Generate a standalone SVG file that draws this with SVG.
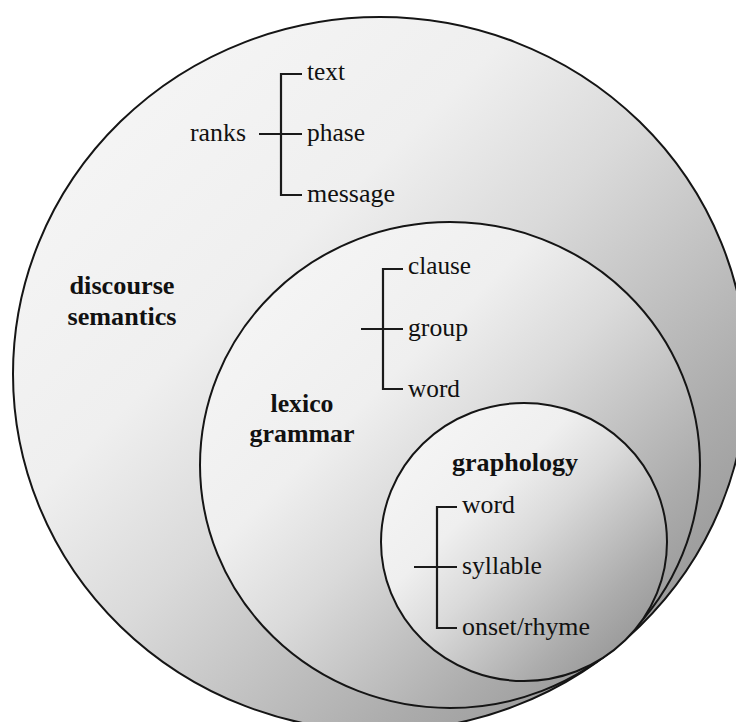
<svg xmlns="http://www.w3.org/2000/svg" width="736" height="722" viewBox="0 0 736 722">
  <defs>
    <linearGradient id="shade" x1="0" y1="0" x2="1" y2="1">
      <stop offset="0" stop-color="#f8f8f8"/>
      <stop offset="0.35" stop-color="#efefef"/>
      <stop offset="0.5" stop-color="#dadada"/>
      <stop offset="0.75" stop-color="#acacac"/>
      <stop offset="1" stop-color="#868686"/>
    </linearGradient>
    <style>
      .circ { fill: url(#shade); stroke: #151515; stroke-width: 2; }
      .br { fill: none; stroke: #1a1a1a; stroke-width: 2.2; }
      .t { font-family: "Liberation Serif", "Times New Roman", serif; font-size: 25px; fill: #111111; }
      .b { font-family: "Liberation Serif", "Times New Roman", serif; font-size: 26px; font-weight: bold; fill: #111111; text-anchor: middle; }
    </style>
  </defs>
  <rect width="736" height="722" fill="#ffffff"/>

  <g id="discourse-semantics">
    <ellipse class="circ" cx="380" cy="374" rx="367" ry="357"/>
    <text class="b" x="122" y="294" textLength="105" lengthAdjust="spacingAndGlyphs">discourse</text>
    <text class="b" x="122" y="325" textLength="109" lengthAdjust="spacingAndGlyphs">semantics</text>
    <text class="t" x="190" y="141" textLength="56" lengthAdjust="spacingAndGlyphs">ranks</text>
    <text class="t" x="307" y="80" textLength="38" lengthAdjust="spacingAndGlyphs">text</text>
    <text class="t" x="307" y="141" textLength="58" lengthAdjust="spacingAndGlyphs">phase</text>
    <text class="t" x="307" y="202" textLength="88" lengthAdjust="spacingAndGlyphs">message</text>
  </g>

  <g id="lexico-grammar">
    <ellipse class="circ" cx="450" cy="465" rx="250" ry="243"/>
    <text class="b" x="302" y="412" textLength="63" lengthAdjust="spacingAndGlyphs">lexico</text>
    <text class="b" x="302" y="442" textLength="105" lengthAdjust="spacingAndGlyphs">grammar</text>
    <text class="t" x="408" y="274" textLength="63" lengthAdjust="spacingAndGlyphs">clause</text>
    <text class="t" x="408" y="336" textLength="60" lengthAdjust="spacingAndGlyphs">group</text>
    <text class="t" x="408" y="397" textLength="52" lengthAdjust="spacingAndGlyphs">word</text>
  </g>

  <g id="graphology">
    <ellipse class="circ" cx="524" cy="542" rx="143" ry="139"/>
    <text class="b" x="515" y="471" textLength="126" lengthAdjust="spacingAndGlyphs">graphology</text>
    <text class="t" x="462" y="513" textLength="53" lengthAdjust="spacingAndGlyphs">word</text>
    <text class="t" x="462" y="574" textLength="80" lengthAdjust="spacingAndGlyphs">syllable</text>
    <text class="t" x="462" y="635" textLength="128" lengthAdjust="spacingAndGlyphs">onset/rhyme</text>
  </g>

  <g id="connectors">
    <path class="br" d="M302,74 H281 V195 H302 M259,134 H302"/>
    <path class="br" d="M403,269 H383 V389 H403 M361,329 H403"/>
    <path class="br" d="M457,507 H437 V628 H457 M414,567 H457"/>
  </g>
</svg>
